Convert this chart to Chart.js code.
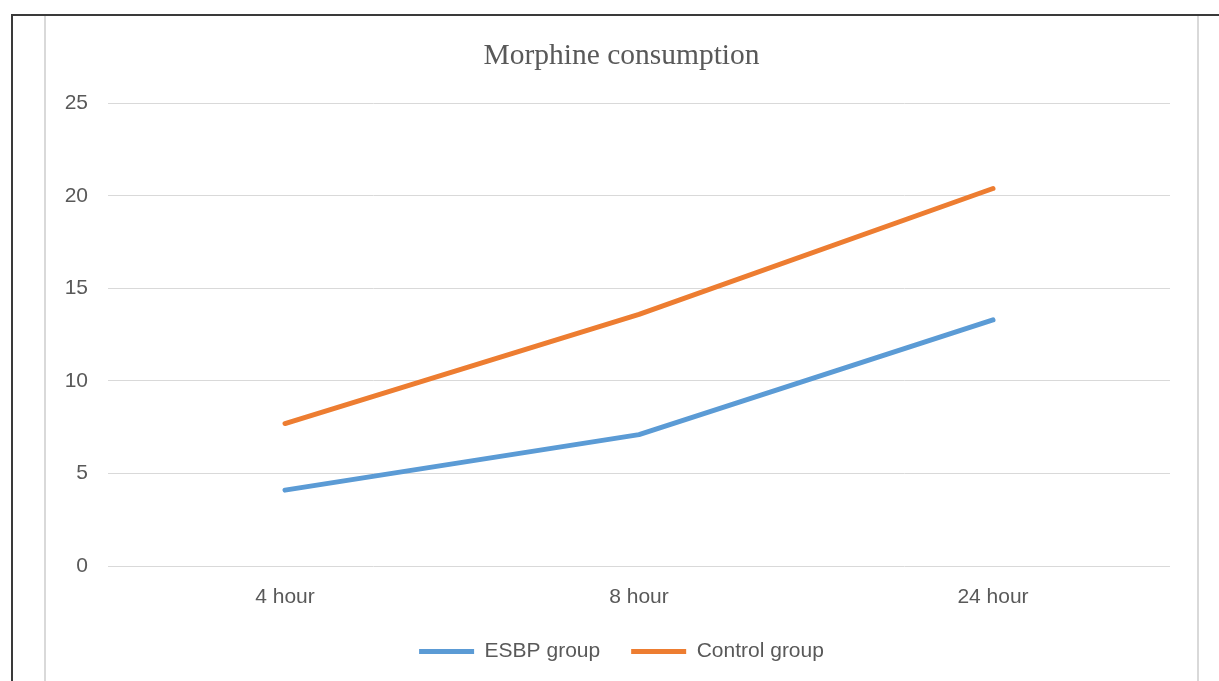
<!DOCTYPE html>
<html>
<head>
<meta charset="utf-8">
<script src="https://cdn.jsdelivr.net/npm/chart.js@4.4.1/dist/chart.umd.min.js"></script>
<style>
  html, body { margin: 0; padding: 0; background: #fff; }
  body { width: 1219px; height: 681px; position: relative; overflow: hidden; }
  #page { position: absolute; left: 11px; top: 14px; right: -2px; bottom: -2px;
          border-left: 2px solid #3a3a3a; border-top: 2px solid #3a3a3a; }
  #frame { position: absolute; left: 44px; top: 16px; width: 1155px; height: 700px;
           border: 2px solid #d9d9d9; border-top: none; box-sizing: border-box; }
  #wrap { position: absolute; left: 0; top: 0; width: 1219px; height: 681px; }
</style>
</head>
<body>
<div id="page"></div>
<div id="frame"></div>
<div id="wrap"><canvas id="chart" width="1219" height="681"></canvas></div>
<script>
// Morphine consumption by time point
const categories = ['4 hour', '8 hour', '24 hour'];
const esbpGroup = [4.1, 7.1, 13.3];
const controlGroup = [7.7, 13.6, 20.4];
const yTicks = [0, 5, 10, 15, 20, 25];

const labelFont = { family: "'Liberation Sans', Arial, sans-serif", size: 21 };
const textColor = '#595959';
const gridColor = '#d9d9d9';

new Chart(document.getElementById('chart'), {
  type: 'line',
  data: {
    labels: categories,
    datasets: [
      { label: 'ESBP group', data: esbpGroup, borderColor: '#5B9BD5', backgroundColor: '#5B9BD5',
        borderWidth: 5, borderCapStyle: 'round', borderJoinStyle: 'round', pointRadius: 0, tension: 0 },
      { label: 'Control group', data: controlGroup, borderColor: '#ED7D31', backgroundColor: '#ED7D31',
        borderWidth: 5, borderCapStyle: 'round', borderJoinStyle: 'round', pointRadius: 0, tension: 0 }
    ]
  },
  options: {
    responsive: false,
    animation: false,
    layout: { padding: { left: 45, right: 21, top: 16, bottom: 9 } },
    plugins: {
      title: {
        display: true,
        text: 'Morphine consumption',
        color: textColor,
        font: { family: "'Liberation Serif', 'Times New Roman', serif", size: 29.5, weight: 'normal' },
        padding: { top: 23, bottom: 29 }
      },
      legend: {
        position: 'bottom',
        labels: {
          color: textColor,
          font: labelFont,
          usePointStyle: true,
          pointStyle: 'line',
          pointStyleWidth: 55,
          padding: 31
        }
      },
      tooltip: { enabled: false }
    },
    scales: {
      x: {
        offset: true,
        grid: { display: false, drawTicks: false },
        border: { display: false },
        ticks: { color: textColor, font: labelFont, padding: 19 },
        afterFit: (scale) => { scale.height = 44; }
      },
      y: {
        min: 0,
        max: 25,
        afterBuildTicks: (scale) => { scale.ticks = yTicks.map(v => ({ value: v })); },
        afterFit: (scale) => { scale.width = 63; },
        grid: { color: gridColor, lineWidth: 1, drawTicks: false },
        border: { display: false },
        ticks: { color: textColor, font: labelFont, padding: 20 }
      },
      // empty right-hand margin inside the frame
      yRight: {
        position: 'right',
        grid: { display: false, drawTicks: false },
        border: { display: false },
        ticks: { display: false },
        afterFit: (scale) => { scale.width = 28; }
      }
    }
  }
});
</script>
</body>
</html>
